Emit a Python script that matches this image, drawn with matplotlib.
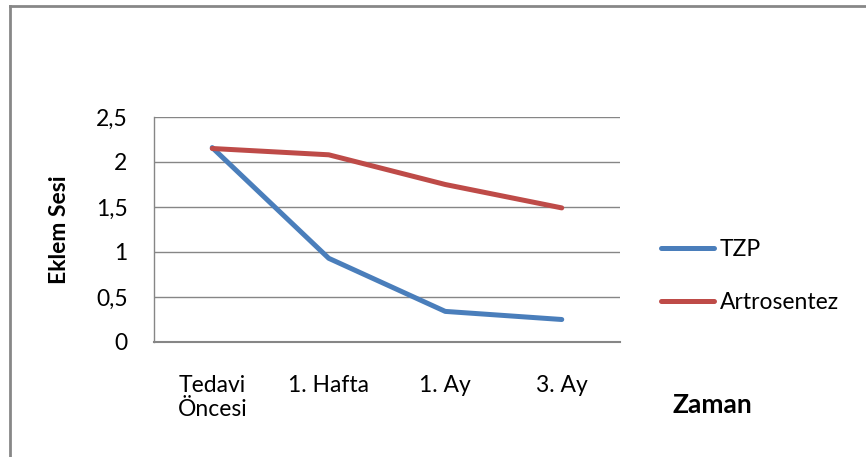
import matplotlib.pyplot as plt
from matplotlib.lines import Line2D

plt.rcParams['font.family'] = ['Lato', 'DejaVu Sans']

# data
categories = ["Tedavi\nÖncesi", "1. Hafta", "1. Ay", "3. Ay"]
tzp = [2.16, 0.93, 0.34, 0.25]
artrosentez = [2.15, 2.08, 1.75, 1.49]
yticks = [0, 0.5, 1, 1.5, 2, 2.5]
ytick_labels = ["0", "0,5", "1", "1,5", "2", "2,5"]

W, H = 866, 457
fig = plt.figure(figsize=(W / 100, H / 100), dpi=100)
ax = fig.add_axes([154 / W, 1 - 342 / H, (620 - 154) / W, (342 - 117) / H])

x = list(range(len(categories)))
ax.plot(x, tzp, color="#4A7EBB", lw=3.6, solid_capstyle="round", label="TZP")
ax.plot(x, artrosentez, color="#BE4B48", lw=3.6, solid_capstyle="round", label="Artrosentez")

ax.set_xlim(-0.5, len(categories) - 0.5)
ax.set_ylim(0, 2.5)
ax.set_yticks(yticks)
ax.set_yticklabels(ytick_labels)
ax.set_xticks(x)
ax.set_xticklabels(categories, linespacing=1.15)
ax.tick_params(length=0, labelsize=16.5)
ax.tick_params(axis="y", pad=19)
ax.tick_params(axis="x", pad=24)

ax.grid(axis="y", color="#868686", lw=1.0)
ax.set_axisbelow(True)
for side in ("top", "right"):
    ax.spines[side].set_visible(False)
ax.spines["left"].set_color("#868686")
ax.spines["left"].set_linewidth(1.0)
ax.spines["bottom"].set_color("#868686")
ax.spines["bottom"].set_linewidth(1.5)

ax.set_ylabel("Eklem Sesi", fontsize=16.5, fontweight="bold")
ax.yaxis.set_label_coords((70 - 154) / (620 - 154), 0.5)
fig.text(712 / W, 1 - 405 / H, "Zaman", fontsize=19, fontweight="bold",
         ha="center", va="center")

leg = ax.legend(loc="upper left", bbox_to_anchor=(661 / W, 1 - 239 / H),
                bbox_transform=fig.transFigure, frameon=False, fontsize=16.5,
                borderpad=0, borderaxespad=0,
                handlelength=2.3, handletextpad=0.25, labelspacing=1.4)

# chart frame
frame_kw = dict(color="#878787", lw=2, transform=fig.transFigure)
fig.add_artist(Line2D([10 / W, 10 / W], [1 - 6 / H, 0], **frame_kw))
fig.add_artist(Line2D([10 / W, 1], [1 - 6 / H, 1 - 6 / H], **frame_kw))

fig.savefig("out.png", dpi=100)
